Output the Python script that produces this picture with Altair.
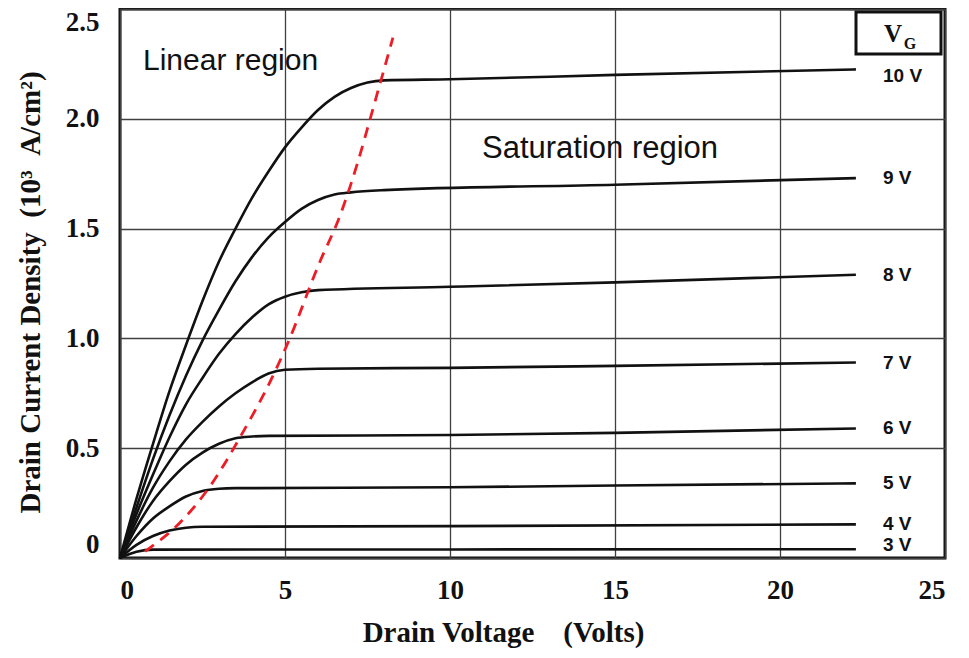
import altair as alt
import pandas as pd

# ---- data ----
gate_labels = ["10 V", "9 V", "8 V", "7 V", "6 V", "5 V", "4 V", "3 V"]

vd_10 = [0, 0.5, 1, 1.5, 2, 2.5, 3, 3.5, 4, 4.5, 5, 5.5, 6, 6.5, 7, 7.5, 8, 10, 15, 22.3]
id_10 = [0, 0.27, 0.52, 0.76, 0.97, 1.17, 1.35, 1.50, 1.64, 1.76, 1.87, 1.96, 2.04, 2.10, 2.14, 2.165, 2.175, 2.18, 2.20, 2.225]

vd_9 = [0, 0.5, 1, 1.5, 2, 2.5, 3, 3.5, 4, 4.5, 5, 5.5, 6, 6.5, 7, 8, 15, 22.3]
id_9 = [0, 0.23, 0.45, 0.65, 0.83, 0.99, 1.13, 1.26, 1.37, 1.46, 1.53, 1.59, 1.63, 1.655, 1.665, 1.675, 1.70, 1.73]

vd_8 = [0, 0.5, 1, 1.5, 2, 2.5, 3, 3.5, 4, 4.5, 5, 5.5, 6, 10, 15, 22.3]
id_8 = [0, 0.2, 0.38, 0.55, 0.70, 0.82, 0.93, 1.02, 1.095, 1.155, 1.19, 1.21, 1.22, 1.235, 1.255, 1.29]

vd_7 = [0, 0.5, 1, 1.5, 2, 2.5, 3, 3.5, 4, 4.5, 5, 6, 10, 15, 22.3]
id_7 = [0, 0.17, 0.32, 0.44, 0.54, 0.62, 0.69, 0.75, 0.80, 0.84, 0.857, 0.862, 0.866, 0.875, 0.89]

vd_6 = [0, 0.5, 1, 1.5, 2, 2.5, 3, 3.5, 4, 4.5, 10, 15, 22.3]
id_6 = [0, 0.14, 0.26, 0.35, 0.425, 0.48, 0.52, 0.545, 0.553, 0.556, 0.56, 0.57, 0.59]

vd_5 = [0, 0.5, 1, 1.5, 2, 2.5, 3, 3.5, 10, 15, 22.3]
id_5 = [0, 0.10, 0.18, 0.235, 0.28, 0.305, 0.315, 0.318, 0.322, 0.33, 0.34]

vd_4 = [0, 0.5, 1, 1.5, 2, 2.5, 10, 22.3]
id_4 = [0, 0.06, 0.10, 0.125, 0.138, 0.142, 0.145, 0.153]

vd_3 = [0, 0.5, 1, 10, 22.3]
id_3 = [0, 0.028, 0.038, 0.039, 0.04]

# boundary between linear and saturation regions (red dashed)
vd_sat = [0.76, 1.94, 2.79, 3.6, 4.7, 5.06, 6.06, 6.67, 6.97, 7.88, 8.27]
id_sat = [0.03, 0.18, 0.34, 0.54, 0.85, 0.97, 1.35, 1.56, 1.69, 2.16, 2.37]

x_ticks = [0, 5, 10, 15, 20, 25]
y_ticks = [0, 0.5, 1.0, 1.5, 2.0, 2.5]

# ---- build tables ----
series = [(vd_10, id_10), (vd_9, id_9), (vd_8, id_8), (vd_7, id_7),
          (vd_6, id_6), (vd_5, id_5), (vd_4, id_4), (vd_3, id_3)]
rows = []
ends = []
for name, (vd, idd) in zip(gate_labels, series):
    for i, (a, b) in enumerate(zip(vd, idd)):
        rows.append({"vg": name, "vd": a, "id": b, "k": i})
    ends.append({"vg": name, "vd": vd[-1], "id": idd[-1]})
curves = pd.DataFrame(rows)
ends = pd.DataFrame(ends)
sat = pd.DataFrame({"vd": vd_sat, "id": id_sat, "k": list(range(len(vd_sat)))})

xs = alt.Scale(domain=[0, 25], nice=False, zero=False)
ys = alt.Scale(domain=[0, 2.5], nice=False, zero=False)

NB = "\u00a0"
x_enc = alt.X("vd:Q", scale=xs, axis=alt.Axis(
    values=x_ticks, title="Drain Voltage" + NB * 4 + "(Volts)", labelPadding=19,
    titleX=383, titleY=74, titleBaseline="middle", titleAlign="center"))
y_enc = alt.Y("id:Q", scale=ys, axis=alt.Axis(
    values=y_ticks, title="Drain Current Density" + NB * 2 + "(10³" + NB * 2 + "A/cm²)",
    labelPadding=21, labelFlush=True,
    labelExpr="datum.value == 0 ? '0' : format(datum.value, '.1f')",
    titleX=-90, titleY=283, titleAngle=270, titleBaseline="middle", titleAlign="center"))

lines = alt.Chart(curves).mark_line(color="#111111", strokeWidth=2.6, interpolate="monotone").encode(
    x=x_enc, y=y_enc, detail="vg:N", order="k:Q")

dashed = alt.Chart(sat).mark_line(color="#ee1c25", strokeWidth=2.8, strokeDash=[11, 8],
                                  interpolate="monotone").encode(
    x=alt.X("vd:Q", scale=xs), y=alt.Y("id:Q", scale=ys), order="k:Q")

label_font = dict(font="Liberation Sans", fontWeight="bold", fontSize=19, color="#111111",
                  align="left", baseline="middle")
mid_labels = alt.Chart(ends).transform_filter(
    "datum.vg != '10 V' && datum.vg != '3 V'").mark_text(**label_font).encode(
    x=alt.value(763), y=alt.Y("id:Q", scale=ys), text="vg:N")
top_label = alt.Chart(ends).transform_filter("datum.vg == '10 V'").mark_text(dy=7, **label_font).encode(
    x=alt.value(763), y=alt.Y("id:Q", scale=ys), text="vg:N")
low_label = alt.Chart(ends).transform_filter("datum.vg == '3 V'").mark_text(dy=-4, **label_font).encode(
    x=alt.value(763), y=alt.Y("id:Q", scale=ys), text="vg:N")

region_font = dict(font="Liberation Sans", color="#111111", align="left", baseline="middle")
linear_txt = alt.Chart(pd.DataFrame({"t": ["Linear region"]})).mark_text(fontSize=30, **region_font).encode(
    x=alt.value(23), y=alt.value(52), text="t:N")
sat_txt = alt.Chart(pd.DataFrame({"t": ["Saturation region"]})).mark_text(fontSize=31, **region_font).encode(
    x=alt.value(362), y=alt.value(140), text="t:N")

box = alt.Chart(pd.DataFrame({"a": [0]})).mark_rect(fill="white", stroke="#111111", strokeWidth=3).encode(
    x=alt.value(736), x2=alt.value(821), y=alt.value(3), y2=alt.value(45))
v_txt = alt.Chart(pd.DataFrame({"t": ["V"]})).mark_text(
    font="Liberation Serif", fontWeight="bold", fontSize=25, color="#111111",
    align="center", baseline="middle").encode(x=alt.value(773), y=alt.value(25), text="t:N")
g_txt = alt.Chart(pd.DataFrame({"t": ["G"]})).mark_text(
    font="Liberation Serif", fontWeight="bold", fontSize=16, color="#111111",
    align="center", baseline="middle").encode(x=alt.value(790), y=alt.value(35), text="t:N")

chart = alt.layer(lines, dashed, mid_labels, top_label, low_label, linear_txt, sat_txt,
                  box, v_txt, g_txt).properties(
    width=825, height=549, autosize=alt.AutoSizeParams(type="none"),
    padding={"left": 112, "top": 1, "right": 16, "bottom": 92},
    background="white"
).configure_view(stroke="#111111", strokeWidth=3).configure_axis(
    grid=True, gridColor="#404040", gridWidth=1.3, domain=False, ticks=False, tickSize=0,
    labelFont="Liberation Serif", labelFontWeight="bold", labelFontSize=27, labelColor="#111111",
    titleFont="Liberation Serif", titleFontWeight="bold", titleFontSize=29, titleColor="#111111")

chart.save("out.html", embed_options={"renderer": "svg", "actions": False})
